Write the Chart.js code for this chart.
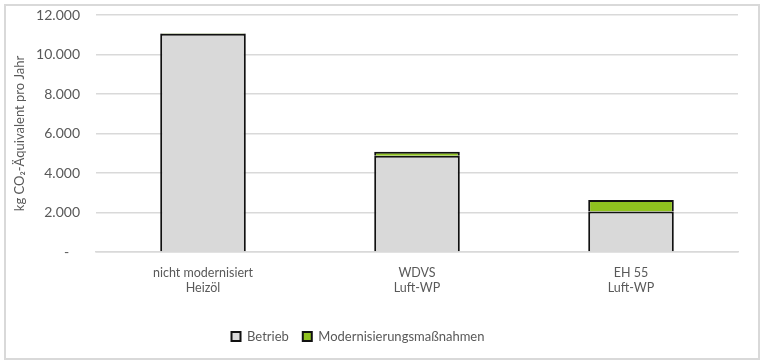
<!DOCTYPE html>
<html>
<head>
<meta charset="utf-8">
<script src="https://cdn.jsdelivr.net/npm/chart.js@4"></script>
<style>
  html, body { margin: 0; padding: 0; background: #fff; }
  #wrap { position: relative; width: 764px; height: 363px; }
  #frame {
    position: absolute; left: 4px; top: 4px; width: 752px; height: 352px;
    border: 2px solid #d9d9d9; pointer-events: none;
  }
</style>
</head>
<body>
<div id="wrap">
  <canvas id="co2Chart" width="764" height="363"></canvas>
  <div id="frame"></div>
</div>
<script>
// Daten
const categories = [
  ['nicht modernisiert', 'Heizöl'],
  ['WDVS', 'Luft-WP'],
  ['EH 55', 'Luft-WP']
];
const betrieb = [11050, 4870, 2050];
const modernisierung = [30, 200, 580];
const yTicks = [0, 2000, 4000, 6000, 8000, 10000, 12000];

const grey = '#595959';
const font = 'Lato, "Open Sans", sans-serif';

// Zahlen im deutschen Format, 0 als "-"
function fmt(v) {
  if (v === 0) return '-   ';
  return String(v).replace(/\B(?=(\d{3})+(?!\d))/g, '.');
}

// Legende etwas nach links verschieben (wie im Original)
const shiftLegend = {
  id: 'shiftLegend',
  afterLayout(chart) {
    chart.legend.left -= 11;
    chart.legend.right -= 11;
  }
};

const ctx = document.getElementById('co2Chart').getContext('2d');
new Chart(ctx, {
  type: 'bar',
  data: {
    labels: categories,
    datasets: [{
      label: 'Betrieb',
      data: betrieb,
      backgroundColor: '#d9d9d9',
      borderColor: '#111',
      borderWidth: 2
    }, {
      label: 'Modernisierungsmaßnahmen',
      data: modernisierung,
      backgroundColor: '#8fc21f',
      borderColor: '#111',
      borderWidth: 2
    }]
  },
  options: {
    responsive: false,
    animation: false,
    barPercentage: 0.4,
    categoryPercentage: 1,
    layout: { padding: { left: 0, right: 26, top: 15, bottom: 10 } },
    scales: {
      x: {
        stacked: true,
        grid: { display: false },
        border: { color: '#d9d9d9', width: 1.5 },
        ticks: { color: grey, font: { family: font, size: 12.5 }, padding: 5 },
        afterFit(scale) {
          scale.height = 64;
          scale.paddingLeft = 0;
          scale.paddingRight = 0;
        }
      },
      y: {
        stacked: true,
        min: 0,
        max: 12000,
        afterBuildTicks(scale) { scale.ticks = yTicks.map(v => ({ value: v })); },
        grid: { color: '#d9d9d9', lineWidth: 1.5, drawTicks: false },
        border: { display: false },
        ticks: {
          color: grey,
          font: { family: font, size: 14 },
          padding: 16,
          callback: v => fmt(v)
        },
        title: {
          display: true,
          text: 'kg CO₂-Äquivalent pro Jahr',
          color: grey,
          font: { family: font, size: 13 },
          padding: { top: 12, bottom: 0 }
        },
        afterFit(scale) {
          scale.width = 96;
          scale.paddingTop = 0;
          scale.paddingBottom = 0;
        }
      }
    },
    plugins: {
      legend: {
        position: 'bottom',
        labels: {
          color: grey,
          font: { family: font, size: 13 },
          boxWidth: 9,
          boxHeight: 9,
          padding: 14
        }
      },
      tooltip: { enabled: false }
    }
  },
  plugins: [shiftLegend]
});
</script>
</body>
</html>
